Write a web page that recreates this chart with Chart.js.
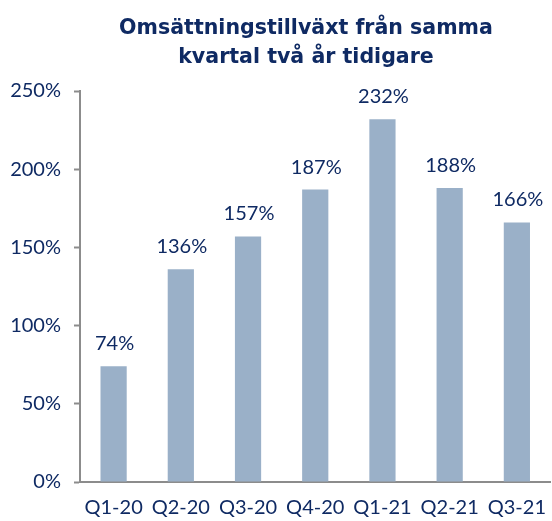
<!DOCTYPE html>
<html>
<head>
<meta charset="utf-8">
<script src="https://cdn.jsdelivr.net/npm/chart.js@4"></script>
<style>
  html, body { margin: 0; padding: 0; background: #fff; overflow: hidden; }
  #wrap { width: 560px; height: 521px; }
</style>
</head>
<body>
<div id="wrap"><canvas id="chart" width="560" height="521"></canvas></div>
<script>
// Data
const quarters = ['Q1-20', 'Q2-20', 'Q3-20', 'Q4-20', 'Q1-21', 'Q2-21', 'Q3-21'];
const growth = [74, 136, 157, 187, 232, 188, 166];
const titleLines = ['Omsättningstillväxt från samma', 'kvartal två år tidigare'];

const navy = '#0f2a63';
const barColor = '#9ab0c8';
const axisGray = '#8c8c8c';
const fontFamily = 'Lato, "Open Sans", sans-serif';
const titleFont = '"DejaVu Sans", sans-serif';

// Title, two centred lines
const titleDraw = {
    id: 'titleDraw',
    afterDraw(chart) {
        const ctx = chart.ctx;
        ctx.save();
        ctx.fillStyle = navy;
        ctx.textAlign = 'center';
        ctx.textBaseline = 'alphabetic';
        // size the title so the first line is as wide as in the picture
        ctx.font = 'bold 20px ' + titleFont;
        const w = ctx.measureText(titleLines[0]).width;
        const size = 20 * 374 / w;
        ctx.font = 'bold ' + size.toFixed(2) + 'px ' + titleFont;
        ctx.fillText(titleLines[0], 306, 34);
        ctx.fillText(titleLines[1], 306, 63);
        ctx.restore();
    }
};

// Labels above bars
const valueLabels = {
    id: 'valueLabels',
    afterDatasetsDraw(chart) {
        const ctx = chart.ctx;
        const meta = chart.getDatasetMeta(0);
        ctx.save();
        ctx.fillStyle = navy;
        ctx.font = '20px ' + fontFamily;
        ctx.textAlign = 'center';
        ctx.textBaseline = 'alphabetic';
        meta.data.forEach((bar, i) => {
            ctx.fillText(growth[i] + '%', bar.x + 1, bar.y - 16);
        });
        ctx.restore();
    }
};

const chart = new Chart(document.getElementById('chart'), {
    type: 'bar',
    data: {
        labels: quarters,
        datasets: [{
            data: growth,
            backgroundColor: barColor,
            borderWidth: 0,
            barPercentage: 0.39,
            categoryPercentage: 1
        }]
    },
    options: {
        responsive: false,
        animation: false,
        layout: { padding: { left: 0, right: 0, top: 91, bottom: 0 } },
        plugins: {
            legend: { display: false },
            tooltip: { enabled: false },
            title: { display: false }
        },
        scales: {
            x: {
                grid: { display: false, drawTicks: false },
                border: { color: axisGray, width: 2 },
                ticks: { color: navy, font: { family: fontFamily, size: 20 }, padding: 14, maxRotation: 0 },
                afterFit(scale) { scale.height = 39; }
            },
            y: {
                min: 0,
                max: 250,
                grid: { drawOnChartArea: false, color: axisGray, tickLength: 6, tickWidth: 2 },
                border: { color: axisGray, width: 2 },
                ticks: {
                    stepSize: 50,
                    color: navy,
                    padding: 13,
                    font: { family: fontFamily, size: 20 },
                    callback: v => v + '%'
                },
                afterFit(scale) { scale.width = 80; }
            }
        }
    },
    plugins: [valueLabels, titleDraw]
});
</script>
</body>
</html>
